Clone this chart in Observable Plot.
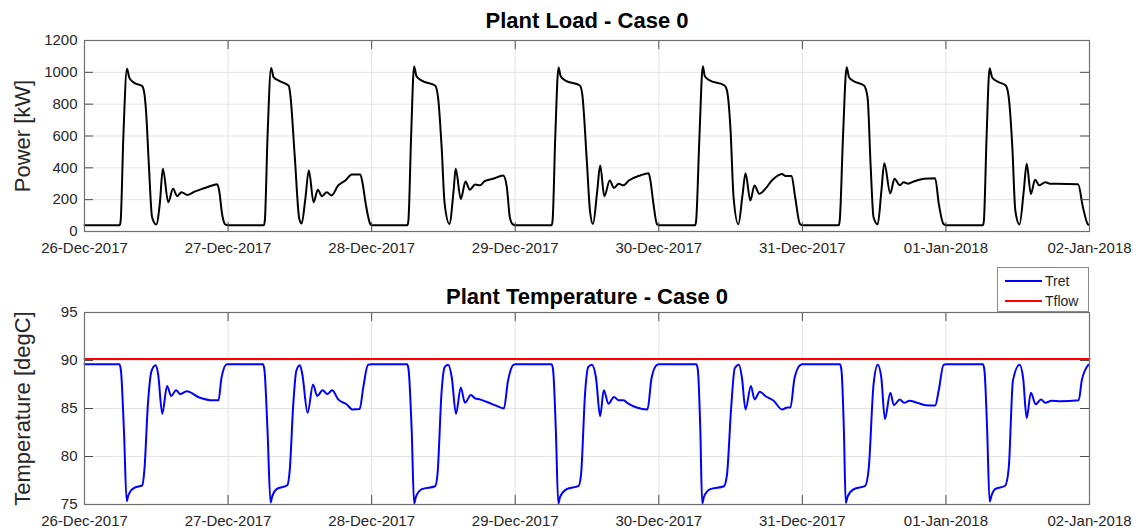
<!DOCTYPE html>
<html>
<head>
<meta charset="utf-8">
<script src="https://cdn.jsdelivr.net/npm/d3@7"></script>
<script src="https://cdn.jsdelivr.net/npm/@observablehq/plot@0.6"></script>
<style>
  body { margin: 0; background: #fff; font-family: "Liberation Sans", Arial, sans-serif; }
  #wrap { position: relative; width: 1137px; height: 532px; overflow: hidden; background: #fff; }
  #top { position: absolute; left: 0; top: 0; }
  #bottom { position: absolute; left: 0; top: 262px; }
  #legend { position: absolute; left: 997px; top: 267px; width: 92px; height: 45px; border: 1px solid #8a8a8a; background: #fff; box-sizing: border-box; font-size: 14px; color: #262626; }
  .lg-line { position: absolute; left: 7px; width: 37px; height: 0; border-top: 2px solid; }
  .lg-text { position: absolute; left: 47px; line-height: 16px; }
  svg { overflow: visible; }
</style>
</head>
<body>
<div id="wrap">
  <div id="top"></div>
  <div id="bottom"></div>
  <div id="legend"></div>
</div>
<script>
// ---------------- DATA ----------------
const startDate = "2017-12-26";
const dayTickDates = ["2017-12-26", "2017-12-27", "2017-12-28", "2017-12-29", "2017-12-30", "2017-12-31", "2018-01-01", "2018-01-02"];
const powerTicks = [0, 200, 400, 600, 800, 1000, 1200];
const tempTicks = [75, 80, 85, 90, 95];
const seriesNames = ["Tret", "Tflow"];
const seriesColors = ["#0000ff", "#ff0000"];

// Plant load [kW]: [hour of day, value]
const load_26Dec = [[0,40],[5.9,40],[6.05,70],[6.5,600],[7.1,1022],[7.5,965],[8.4,932],[9.6,915],[9.95,880],[10.3,750],[10.75,425],[11.3,90],[12.0,44],[12.6,180],[13.1,395],[14.0,184],[14.8,268],[15.5,222],[16.2,247],[17.2,230],[18.5,252],[20.0,272],[21.2,287],[22.2,297],[22.5,260],[23.0,110],[23.5,45],[24,40]];
const load_27Dec = [[0,40],[6.0,40],[6.15,70],[6.6,600],[7.2,1028],[7.6,970],[8.5,948],[9.5,930],[10.15,915],[10.4,860],[11.15,470],[11.9,80],[12.3,50],[12.9,200],[13.5,383],[14.3,184],[15.0,262],[15.7,222],[16.5,247],[17.3,226],[18.4,289],[19.6,320],[20.7,358],[22.1,358],[22.5,300],[23.0,176],[23.8,45],[24,40]];
const load_28Dec = [[0,40],[6.0,40],[6.15,70],[6.6,600],[7.1,1036],[7.5,975],[8.4,948],[10.6,917],[11.1,843],[11.7,530],[12.2,176],[13.0,47],[13.7,257],[14.05,394],[14.9,205],[15.7,314],[16.4,262],[17.3,295],[18.1,290],[18.9,316],[20.3,331],[22.0,352],[22.6,278],[23.1,90],[23.6,45],[24,40]];
const load_29Dec = [[0,40],[6.1,40],[6.25,70],[6.7,600],[7.24,1030],[7.6,975],[8.4,948],[10.8,917],[11.2,865],[12.0,425],[12.5,130],[13.0,47],[13.7,250],[14.2,415],[14.9,222],[15.8,320],[16.5,274],[17.3,300],[18.1,290],[19.0,320],[20.9,352],[22.3,366],[22.6,320],[23.1,176],[23.7,45],[24,40]];
const load_30Dec = [[0,40],[6.1,40],[6.25,70],[6.8,600],[7.36,1038],[7.7,975],[8.4,952],[11.0,917],[11.4,886],[12.0,634],[12.5,215],[13.3,45],[14.0,230],[14.5,366],[15.3,195],[16.0,289],[16.8,237],[17.8,268],[18.9,320],[20.6,362],[21.2,348],[22.2,348],[22.8,215],[23.6,47],[24,40]];
const load_31Dec = [[0,40],[6.1,40],[6.25,70],[6.8,600],[7.4,1032],[7.8,970],[8.4,948],[10.3,917],[10.9,843],[11.4,425],[11.9,90],[12.6,45],[13.2,250],[13.7,429],[14.7,240],[15.4,331],[16.3,290],[16.9,310],[17.7,300],[18.6,314],[20.3,331],[22.2,335],[22.8,176],[23.6,47],[24,40]];
const load_01Jan = [[0,40],[6.2,40],[6.35,70],[6.8,600],[7.3,1026],[7.7,970],[8.3,948],[10.0,917],[10.5,843],[11.1,530],[11.6,132],[12.3,44],[13.0,250],[13.5,425],[14.2,236],[14.9,325],[15.6,290],[16.6,310],[17.4,300],[18.5,300],[22.1,297],[22.9,153],[23.7,47],[23.9,42]];

// Return temperature Tret [degC]: [hour of day, value]
const tret_26Dec = [[0,89.6],[5.85,89.6],[6.1,88.9],[6.6,82.6],[7.05,75.35],[7.3,75.9],[7.7,76.4],[8.4,76.75],[9.65,77.0],[10.0,78.5],[10.6,85.45],[11.2,88.9],[11.9,89.5],[12.3,88.6],[13.0,84.45],[13.8,87.35],[14.5,86.3],[15.3,86.9],[16.0,86.5],[17.1,86.8],[19.2,86.15],[21.5,85.85],[22.4,85.85],[22.9,88.2],[23.8,89.6],[24,89.6]];
const tret_27Dec = [[0,89.6],[5.85,89.6],[6.1,88.9],[6.6,82.6],[7.1,75.2],[7.4,75.9],[8.1,76.6],[9.9,77.0],[10.3,78.5],[10.9,85.45],[11.4,88.9],[12.0,89.5],[12.4,88.6],[13.3,84.55],[14.2,87.5],[14.9,86.3],[15.8,86.9],[16.6,86.5],[17.4,86.9],[18.4,85.95],[19.8,85.45],[20.8,84.9],[22.0,84.95],[22.6,87.2],[23.4,89.55],[24,89.6]];
const tret_28Dec = [[0,89.6],[5.95,89.6],[6.2,88.9],[6.7,82.6],[7.1,75.1],[7.4,75.8],[8.4,76.6],[10.6,76.9],[11.0,78.1],[11.7,86.8],[12.2,89.3],[12.8,89.55],[13.4,88.2],[14.1,84.45],[14.9,87.2],[15.6,85.6],[16.6,86.4],[17.3,86.05],[18.1,85.95],[19.2,85.7],[20.6,85.35],[22.1,85.0],[22.8,87.9],[23.7,89.55],[24,89.6]];
const tret_29Dec = [[0,89.6],[6.1,89.6],[6.35,88.9],[6.8,82.6],[7.2,75.1],[7.5,75.8],[8.6,76.6],[10.6,76.95],[11.0,78.1],[11.7,86.8],[12.2,89.3],[12.8,89.55],[13.5,88.2],[14.2,84.2],[14.8,86.9],[15.6,85.5],[16.5,86.2],[17.3,85.85],[18.1,85.85],[18.9,85.5],[20.3,85.1],[22.1,84.9],[22.8,88.2],[23.7,89.55],[24,89.6]];
const tret_30Dec = [[0,89.6],[6.3,89.6],[6.55,88.9],[6.95,82.6],[7.25,75.1],[7.55,75.8],[8.6,76.6],[10.9,76.9],[11.4,78.1],[12.1,85.1],[12.7,89.2],[13.4,89.55],[13.9,88.2],[14.5,84.9],[15.4,87.35],[16.0,85.95],[16.9,86.75],[17.8,86.3],[19.2,85.8],[20.6,84.9],[21.5,85.1],[22.0,85.1],[22.7,88.2],[23.7,89.55],[24,89.6]];
const tret_31Dec = [[0,89.6],[6.3,89.6],[6.55,88.9],[6.95,82.6],[7.25,75.15],[7.55,75.8],[8.6,76.6],[10.5,76.95],[11.1,78.8],[11.9,87.5],[12.6,89.55],[13.2,88.2],[13.8,83.9],[14.7,86.65],[15.3,85.35],[16.3,85.95],[17.0,85.6],[17.9,85.8],[19.2,85.6],[20.6,85.35],[22.2,85.3],[22.8,86.9],[23.6,89.55],[24,89.6]];
const tret_01Jan = [[0,89.6],[6.2,89.6],[6.45,88.9],[6.9,82.6],[7.3,75.3],[7.6,75.9],[8.2,76.6],[9.9,76.95],[10.5,78.8],[11.2,87.9],[12.3,89.55],[12.9,88.2],[13.5,84.0],[14.2,86.65],[15.0,85.45],[15.9,85.95],[16.6,85.6],[17.7,85.8],[19.1,85.75],[22.2,85.85],[22.7,87.9],[23.8,89.55]];

// Flow temperature Tflow [degC]: constant over the week
const tflowHours = [0, 168];
const tflowValues = [90.15, 90.15];

// ---------------- BUILD ----------------
const t0 = new Date(startDate + "T00:00:00Z").getTime();
const H = 3600e3;
const dayTicks = dayTickDates.map(s => new Date(s + "T00:00:00Z"));
const xDomain = [dayTicks[0], dayTicks[dayTicks.length - 1]];
const fmt = d3.utcFormat("%d-%b-%Y");

function rows(days) {
  return days.flatMap((pts, i) => pts.map(([h, v]) => ({time: new Date(t0 + (i * 24 + h) * H), value: v})));
}
const loadRows = rows([load_26Dec, load_27Dec, load_28Dec, load_29Dec, load_30Dec, load_31Dec, load_01Jan]);
const tretRows = rows([tret_26Dec, tret_27Dec, tret_28Dec, tret_29Dec, tret_30Dec, tret_31Dec, tret_01Jan]);
const tflowRows = tflowHours.map((h, i) => ({time: new Date(t0 + h * H), value: tflowValues[i]}));

const W = 1137, ML = 84, MR = 48;
const areaW = W - ML - MR;
const TICK = 9;
const gridColor = "#e3e3e3";
const axisColor = "#4d4d4d";
const textColor = "#262626";

function chart({height, marginTop, marginBottom, yDomain, yTicks, title, titleDy, ylabel, series}) {
  const areaH = height - marginTop - marginBottom;
  return Plot.plot({
    width: W, height, marginLeft: ML, marginRight: MR, marginTop, marginBottom,
    style: {fontFamily: '"Liberation Sans", Arial, sans-serif', color: textColor, background: "transparent"},
    x: {type: "utc", domain: xDomain, label: null},
    y: {domain: yDomain, label: null},
    marks: [
      Plot.ruleX(dayTicks, {x: d => d, stroke: gridColor, strokeWidth: 1}),
      Plot.ruleY(yTicks, {y: d => d, stroke: gridColor, strokeWidth: 1}),
      ...series.map(s => Plot.line(s.data, {x: "time", y: "value", stroke: s.color, strokeWidth: 2, curve: "monotone-x"})),
      Plot.ruleX(dayTicks, {x: d => d, stroke: axisColor, insetTop: areaH - TICK}),
      Plot.ruleX(dayTicks, {x: d => d, stroke: axisColor, insetBottom: areaH - TICK}),
      Plot.ruleY(yTicks, {y: d => d, stroke: axisColor, insetRight: areaW - TICK}),
      Plot.ruleY(yTicks, {y: d => d, stroke: axisColor, insetLeft: areaW - TICK}),
      Plot.frame({stroke: "#6e6e6e", strokeWidth: 1.2}),
      Plot.axisX(dayTicks, {tickSize: 0, tickPadding: 11, tickFormat: fmt, fontSize: 15, label: null}),
      Plot.axisY(yTicks, {tickSize: 0, tickPadding: 7, fontSize: 15, tickFormat: d3.format("d"), label: null}),
      Plot.text([title], {text: d => d, frameAnchor: "top", lineAnchor: "middle", textAnchor: "middle", dy: titleDy, fontSize: 22, fontWeight: "bold", fill: "#000"}),
      Plot.text([ylabel], {text: d => d, frameAnchor: "left", lineAnchor: "middle", textAnchor: "middle", rotate: -90, dx: -62, fontSize: 22, fill: textColor})
    ]
  });
}

document.getElementById("top").appendChild(chart({
  height: 262, marginTop: 40, marginBottom: 31,
  yDomain: [0, 1200], yTicks: powerTicks,
  title: "Plant Load - Case 0", titleDy: -20, ylabel: "Power [kW]",
  series: [{data: loadRows, color: "#000"}]
}));

document.getElementById("bottom").appendChild(chart({
  height: 270, marginTop: 50, marginBottom: 28,
  yDomain: [75, 95], yTicks: tempTicks,
  title: "Plant Temperature - Case 0", titleDy: -16, ylabel: "Temperature [degC]",
  series: [{data: tretRows, color: seriesColors[0]}, {data: tflowRows, color: seriesColors[1]}]
}));

// legend
const legend = document.getElementById("legend");
const rowCenters = [13, 33];
seriesNames.forEach((name, i) => {
  const ln = document.createElement("div");
  ln.className = "lg-line";
  ln.style.top = (rowCenters[i] - 1) + "px";
  ln.style.borderTopColor = seriesColors[i];
  const tx = document.createElement("div");
  tx.className = "lg-text";
  tx.style.top = (rowCenters[i] - 8) + "px";
  tx.textContent = name;
  legend.appendChild(ln);
  legend.appendChild(tx);
});
</script>
</body>
</html>
